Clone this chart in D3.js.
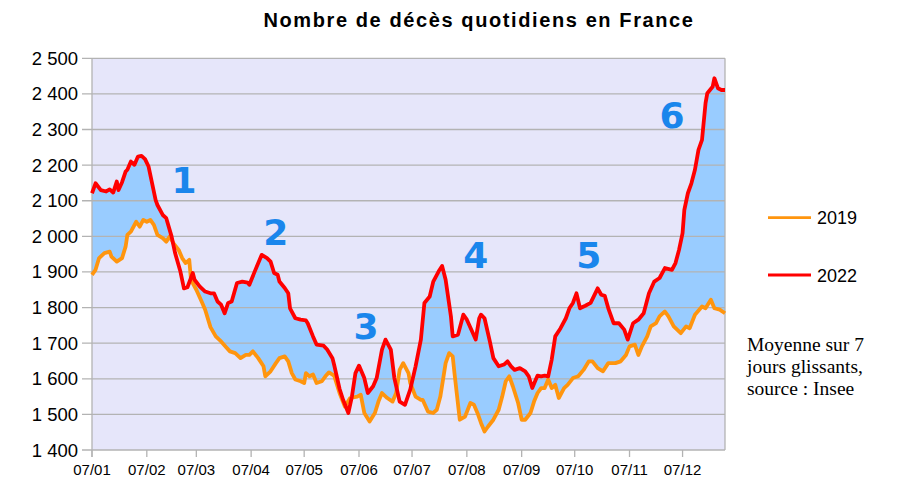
<!DOCTYPE html>
<html><head><meta charset="utf-8">
<script src="https://cdn.jsdelivr.net/npm/d3@7"></script>
<style>body{margin:0;background:#fff}svg{display:block}</style>
</head><body>
<svg id="chart" width="904" height="501"></svg>
<script>
// Day of year (0 = 1 Jan) and 7-day average daily deaths
const days2022 = [6,8,11,14,16,18,20,21,23,25,26,28,30,32,34,36,38,40,42,43,46,48,51,53,56,58,60,63,64,67,70,73,75,77,79,81,83,85,88,91,94,95,98,102,105,107,109,111,112,115,117,118,121,124,127,128,131,133,137,139,142,143,146,148,151,153,155,157,160,162,165,167,170,172,175,177,180,183,186,189,192,194,197,199,202,204,206,209,210,213,216,218,221,223,225,226,228,231,233,236,239,241,243,245,248,251,253,255,257,258,260,262,264,266,268,271,274,276,278,280,282,285,288,292,294,296,298,301,304,307,309,312,315,318,321,324,327,330,334,336,338,340,341,343,345,347,349,351,353,354,357,358,360,362,364];
const deaths2022 = [2121,2149,2130,2126,2132,2123,2154,2130,2152,2182,2187,2210,2201,2224,2226,2217,2196,2149,2102,2088,2060,2051,2000,1953,1901,1854,1857,1897,1878,1859,1845,1840,1840,1817,1808,1784,1813,1817,1869,1873,1870,1864,1901,1948,1939,1929,1897,1892,1873,1855,1840,1798,1770,1766,1764,1756,1719,1696,1693,1682,1658,1638,1572,1541,1504,1550,1616,1637,1602,1560,1579,1602,1682,1710,1682,1602,1536,1527,1570,1635,1710,1813,1831,1873,1901,1917,1878,1775,1719,1724,1780,1766,1733,1710,1770,1780,1770,1705,1658,1635,1640,1649,1635,1625,1630,1621,1607,1574,1598,1609,1607,1609,1607,1654,1719,1742,1770,1798,1813,1840,1798,1805,1813,1854,1836,1833,1798,1756,1756,1738,1710,1756,1766,1784,1840,1873,1883,1911,1906,1925,1962,2009,2074,2121,2149,2187,2243,2271,2374,2402,2420,2444,2416,2411,2411];
const days2019 = [6,8,10,13,16,17,20,23,25,26,28,31,33,35,37,39,41,43,46,48,50,52,55,57,59,61,62,65,68,70,73,76,79,82,84,87,90,93,95,97,100,103,104,107,110,112,115,117,119,121,124,126,127,129,131,133,136,138,140,142,143,146,149,152,156,158,160,163,166,168,170,173,176,178,180,182,185,186,189,192,193,196,199,201,203,206,208,210,211,214,217,220,222,224,226,228,230,233,236,238,240,242,244,247,249,251,254,256,258,260,262,264,266,268,270,273,275,278,281,284,287,289,292,295,298,302,305,308,310,313,315,317,320,322,325,327,330,332,335,339,342,344,347,351,353,356,358,361,364];
const deaths2019 = [1892,1906,1939,1953,1957,1943,1929,1939,1971,2004,2013,2041,2027,2046,2041,2046,2032,2004,1995,1985,2000,1981,1962,1939,1925,1934,1878,1850,1817,1794,1745,1719,1705,1688,1677,1672,1658,1667,1667,1677,1658,1635,1607,1621,1644,1658,1663,1649,1616,1598,1593,1588,1616,1607,1612,1588,1593,1607,1618,1612,1608,1560,1522,1546,1550,1555,1504,1480,1504,1536,1560,1546,1536,1560,1625,1644,1616,1588,1550,1541,1541,1508,1504,1513,1550,1644,1672,1663,1616,1485,1494,1532,1527,1504,1476,1452,1466,1485,1513,1550,1593,1607,1579,1532,1485,1485,1504,1536,1560,1574,1574,1598,1574,1583,1546,1574,1583,1602,1607,1625,1649,1649,1630,1621,1644,1644,1649,1667,1691,1696,1667,1691,1719,1747,1756,1775,1789,1775,1747,1728,1747,1742,1780,1803,1798,1822,1798,1794,1784];
const yTicks = [1400,1500,1600,1700,1800,1900,2000,2100,2200,2300,2400,2500];
const monthTickLabels = ["07/01","07/02","07/03","07/04","07/05","07/06","07/07","07/08","07/09","07/10","07/11","07/12"];
const seriesNames = ["2019","2022"];
const waveLabels = ["1","2","3","4","5","6"];
const waveDays = [58,110,161,223,287,334];
const waveValues = [2121,1976,1712,1911,1911,2304];
const noteLines = ["Moyenne sur 7","jours glissants,","source : Insee"];

const svg = d3.select("#chart");
const L = 92, R = 725, T = 58.3, B = 450;
const base = new Date(2022,0,1);
const toDate = d => d3.timeDay.offset(base, d);
const x = d3.scaleTime().domain([toDate(6), toDate(364)]).range([L, R]);
const y = d3.scaleLinear().domain([1400,2500]).range([B, T]);
const fmt = d3.formatLocale({decimal:",",thousands:" ",grouping:[3],currency:["","€"]}).format(",");

const d22 = days2022.map((d,i)=>({d:toDate(d), v:deaths2022[i]}));
const d19 = days2019.map((d,i)=>({d:toDate(d), v:deaths2019[i]}));

// plot background
svg.append("rect").attr("x",L).attr("y",T).attr("width",R-L).attr("height",B-T).attr("fill","#e6e6fa");
const area = d3.area().x(p=>x(p.d)).y0(y(1400)).y1(p=>y(p.v));
svg.append("path").datum(d22).attr("d",area).attr("fill","#99ccff");
svg.append("path").datum(d19).attr("d",area).attr("fill","#e6e6fa");

// grid + y axis
const gridCol = "#b3b3b3";
svg.append("g").selectAll("line").data(yTicks).join("line")
  .attr("x1",L-10).attr("x2",R).attr("y1",d=>y(d)).attr("y2",d=>y(d))
  .attr("stroke",gridCol).attr("stroke-width",1.3);
svg.append("line").attr("x1",L).attr("x2",L).attr("y1",T).attr("y2",B+7).attr("stroke",gridCol).attr("stroke-width",1.3);
svg.append("line").attr("x1",R).attr("x2",R).attr("y1",T).attr("y2",B).attr("stroke",gridCol).attr("stroke-width",1.3);
svg.append("g").selectAll("text").data(yTicks).join("text")
  .attr("x",L-14).attr("y",d=>y(d)+6.5).attr("text-anchor","end")
  .attr("font-family","Liberation Sans, Arial, sans-serif").attr("font-size",18.5).attr("fill","#000")
  .text(d=>fmt(d));

// x axis ticks
const monthDates = d3.range(12).map(m=>new Date(2022,m,7));
svg.append("g").selectAll("line").data(monthDates).join("line")
  .attr("x1",d=>x(d)).attr("x2",d=>x(d)).attr("y1",B).attr("y2",B+7)
  .attr("stroke",gridCol).attr("stroke-width",1.3);
svg.append("g").selectAll("text").data(monthDates).join("text")
  .attr("x",d=>x(d)).attr("y",B+25).attr("text-anchor","middle")
  .attr("font-family","Liberation Sans, Arial, sans-serif").attr("font-size",15).attr("fill","#000")
  .text((d,i)=>monthTickLabels[i]);

// lines
const line = d3.line().x(p=>x(p.d)).y(p=>y(p.v));
svg.append("path").datum(d19).attr("d",line).attr("fill","none").attr("stroke","#ff950e").attr("stroke-width",3.8).attr("stroke-linejoin","round");
svg.append("path").datum(d22).attr("d",line).attr("fill","none").attr("stroke","#ff0000").attr("stroke-width",3.8).attr("stroke-linejoin","round");

// wave labels
svg.append("g").selectAll("text").data(waveLabels).join("text")
  .attr("x",(d,i)=>x(toDate(waveDays[i]))).attr("y",(d,i)=>y(waveValues[i]))
  .attr("text-anchor","middle").attr("font-family","DejaVu Sans, sans-serif").attr("font-weight","bold")
  .attr("font-size",36).attr("fill","#1a86ec").text(d=>d);

// title
svg.append("text").attr("x",479).attr("y",27).attr("text-anchor","middle")
  .attr("font-family","Liberation Sans, Arial, sans-serif").attr("font-weight","bold").attr("font-size",20)
  .attr("letter-spacing",1.6).attr("fill","#000").text("Nombre de décès quotidiens en France");

// legend
const legCols = ["#ff950e","#ff0000"];
const legY = [217.7, 275];
seriesNames.forEach((s,i)=>{
  svg.append("line").attr("x1",768).attr("x2",811).attr("y1",legY[i]).attr("y2",legY[i]).attr("stroke",legCols[i]).attr("stroke-width",2.8);
  svg.append("text").attr("x",817).attr("y",legY[i]+6.5).attr("font-family","Liberation Sans, Arial, sans-serif").attr("font-size",18).attr("fill","#000").text(s);
});
// note
svg.append("g").selectAll("text").data(noteLines).join("text")
  .attr("x",747).attr("y",(d,i)=>351+i*22).attr("font-family","Liberation Serif, Times New Roman, serif")
  .attr("font-size",19.5).attr("fill","#000").text(d=>d);
</script>
</body></html>
